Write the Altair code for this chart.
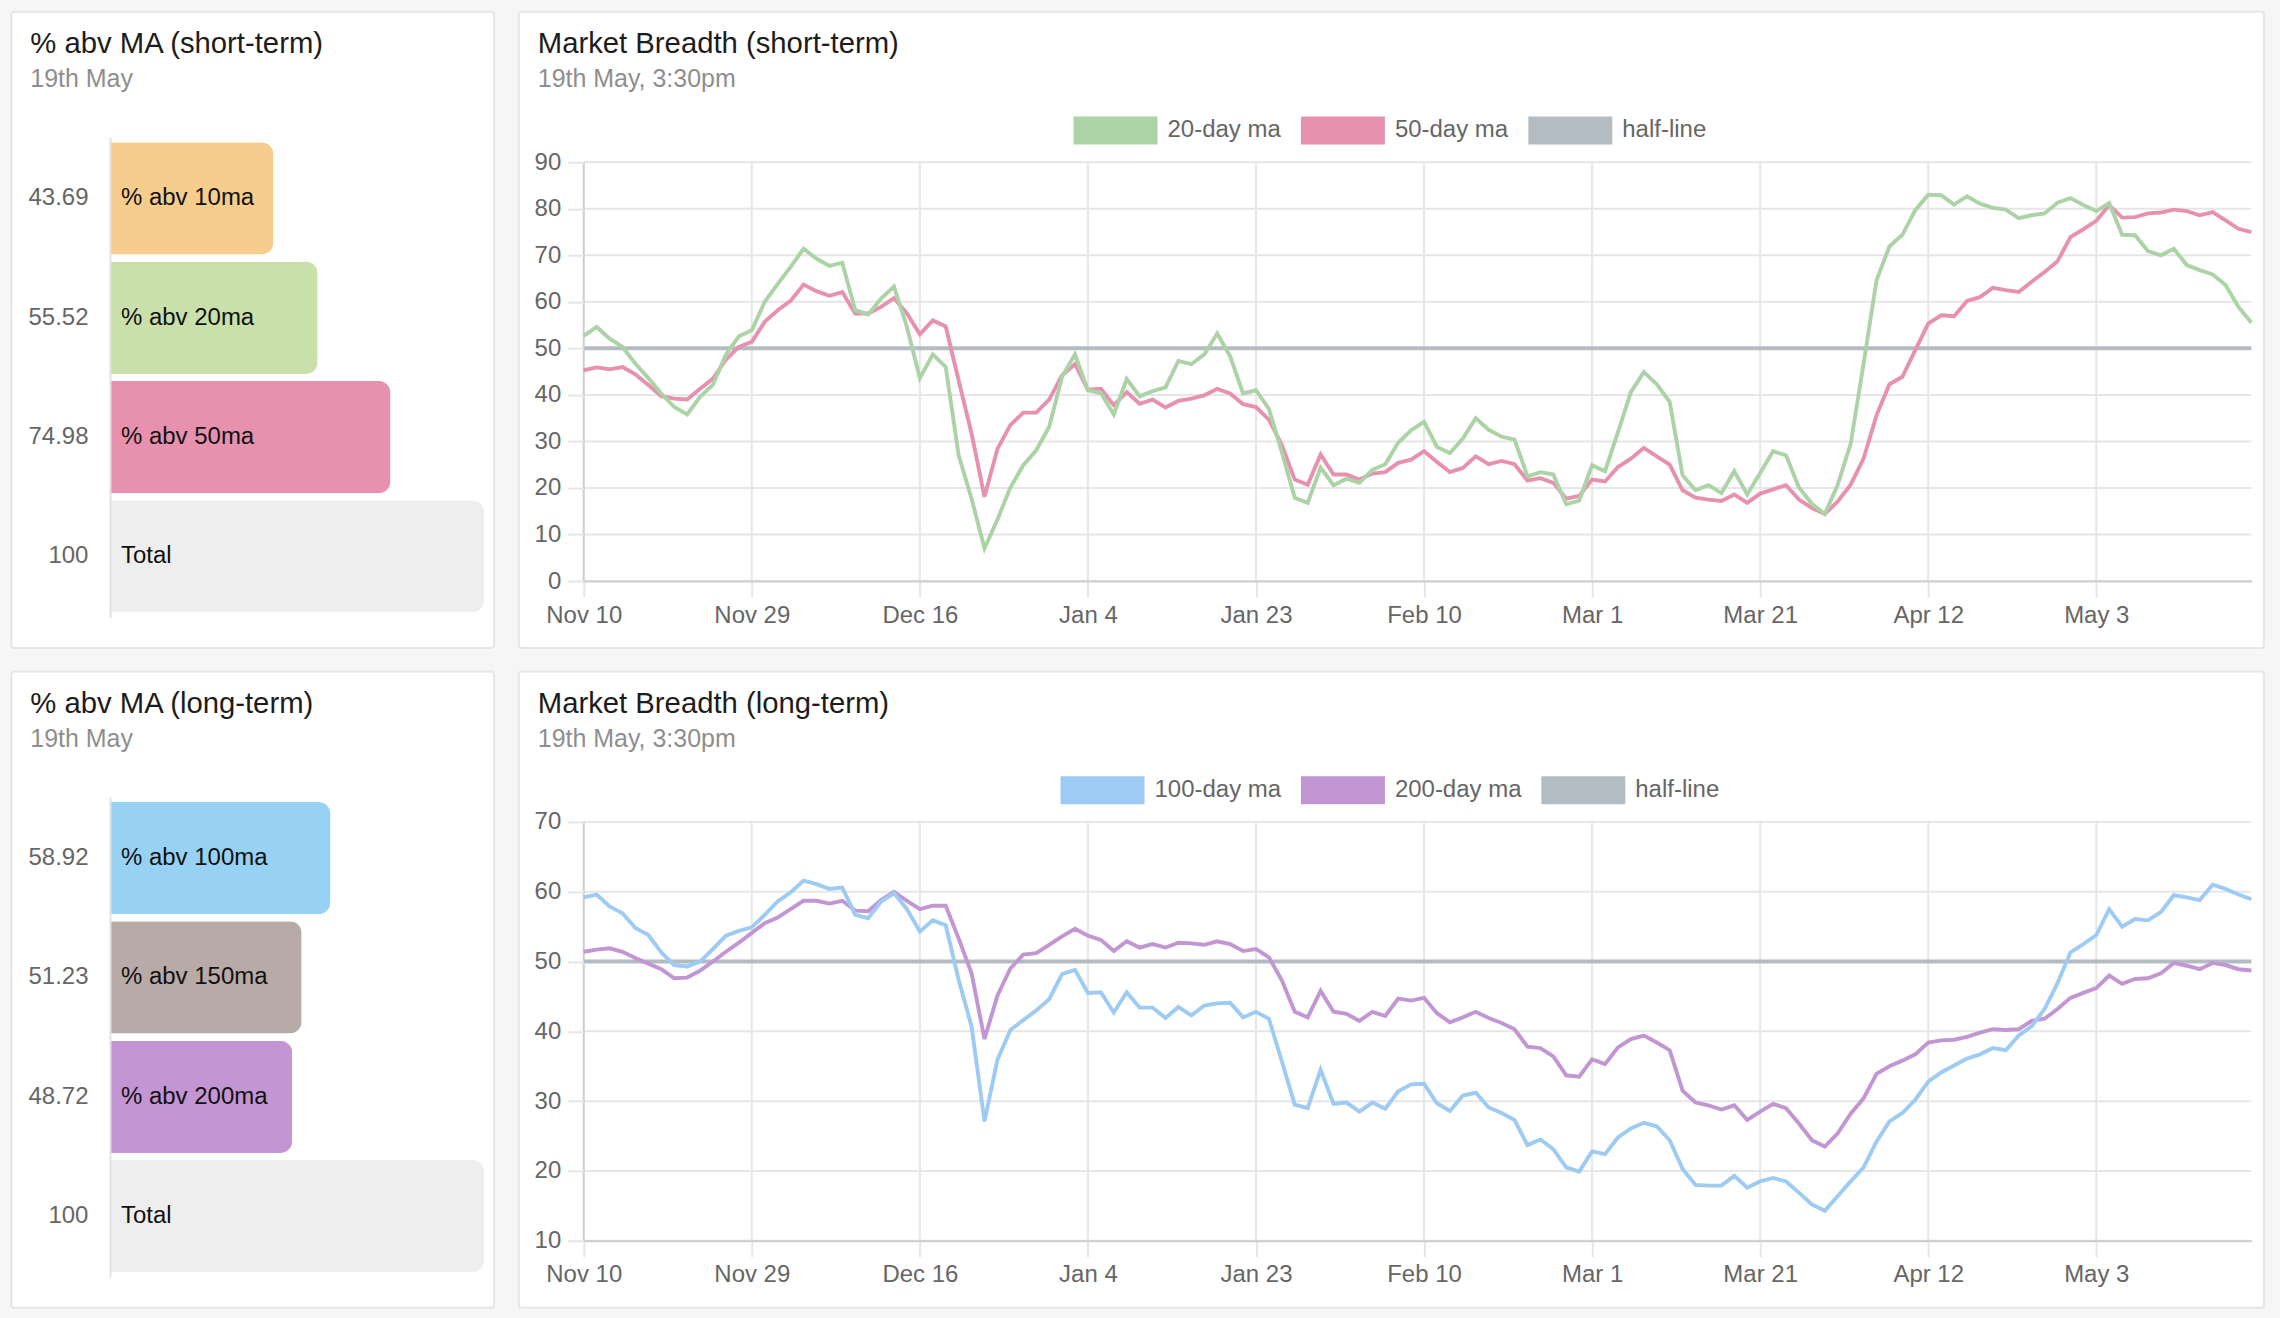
import altair as alt
import pandas as pd

# ---------------------------------------------------------------- data
# Date axis: one label every 13 sessions
TICK_LABELS = ["Nov 10", "Nov 29", "Dec 16", "Jan 4", "Jan 23",
               "Feb 10", "Mar 1", "Mar 21", "Apr 12", "May 3"]
LABEL_STEP = 13

# % of stocks above their moving average, one value per session
MA20 = [52.7, 54.6, 52.1, 50.3, 46.7, 43.6, 40.3, 37.4, 35.8, 39.6,
        42.2, 48.7, 52.6, 53.9, 60.0, 63.8, 67.5, 71.4, 69.3, 67.7,
        68.4, 58.2, 57.3, 60.7, 63.3, 54.6, 43.6, 48.7, 46.0, 27.0,
        17.7, 7.0, 13.2, 20.1, 24.9, 28.1, 33.1, 43.9, 48.7, 41.0,
        40.4, 35.8, 43.4, 39.7, 40.8, 41.6, 47.3, 46.6, 48.7, 53.2,
        48.3, 40.3, 41.0, 37.0, 27.7, 17.9, 16.8, 24.4, 20.6, 22.0,
        21.1, 23.9, 25.1, 29.7, 32.4, 34.2, 28.8, 27.5, 30.6, 35.0,
        32.5, 31.0, 30.4, 22.5, 23.4, 22.9, 16.5, 17.3, 24.9, 23.6,
        32.0, 40.6, 44.9, 42.3, 38.5, 22.7, 19.5, 20.6, 18.9, 23.6,
        18.6, 23.2, 27.9, 27.0, 20.1, 16.6, 14.4, 20.7, 29.5, 46.7,
        64.6, 71.9, 74.4, 79.7, 83.0, 82.9, 80.9, 82.7, 81.1, 80.2,
        79.8, 78.0, 78.6, 79.0, 81.3, 82.3, 80.8, 79.5, 81.2, 74.4,
        74.3, 70.9, 70.0, 71.4, 67.9, 66.8, 65.9, 63.6, 58.9, 55.52]

MA50 = [45.3, 45.9, 45.5, 46.0, 44.4, 42.1, 39.7, 39.2, 39.0, 41.3,
        43.5, 47.6, 50.3, 51.4, 55.7, 58.2, 60.2, 63.7, 62.3, 61.3,
        62.1, 57.5, 57.5, 58.9, 60.8, 57.5, 53.0, 56.0, 54.7, 43.1,
        31.7, 18.1, 28.4, 33.5, 36.2, 36.2, 39.0, 44.2, 46.6, 41.1,
        41.3, 37.8, 40.6, 38.1, 39.0, 37.3, 38.7, 39.2, 39.9, 41.3,
        40.3, 38.0, 37.4, 34.7, 29.2, 21.8, 20.7, 27.2, 22.9, 22.9,
        21.8, 23.1, 23.4, 25.4, 26.1, 27.9, 25.6, 23.4, 24.3, 26.8,
        25.1, 25.8, 25.1, 21.6, 22.1, 21.1, 17.7, 18.3, 21.8, 21.4,
        24.5, 26.3, 28.6, 26.8, 25.0, 19.5, 17.9, 17.5, 17.2, 18.6,
        16.8, 18.8, 19.7, 20.6, 17.5, 15.7, 14.4, 17.1, 20.7, 26.3,
        35.6, 42.3, 43.9, 49.6, 55.3, 57.1, 56.9, 60.2, 61.0, 63.0,
        62.5, 62.1, 64.3, 66.4, 68.7, 73.9, 75.6, 77.4, 80.8, 78.1,
        78.2, 79.0, 79.2, 79.8, 79.5, 78.6, 79.3, 77.5, 75.7, 74.98]

MA100 = [59.2, 59.6, 57.9, 56.9, 54.8, 53.8, 51.3, 49.5, 49.3, 50.0,
         51.8, 53.7, 54.4, 54.9, 56.7, 58.6, 59.9, 61.6, 61.1, 60.4,
         60.6, 56.7, 56.2, 58.6, 59.8, 57.5, 54.3, 55.9, 55.2, 47.4,
         40.7, 27.1, 35.9, 40.2, 41.6, 43.0, 44.6, 48.2, 48.8, 45.5,
         45.6, 42.7, 45.6, 43.4, 43.4, 41.9, 43.5, 42.3, 43.7, 44.0,
         44.1, 42.0, 42.8, 41.8, 35.7, 29.5, 29.0, 34.5, 29.6, 29.8,
         28.5, 29.8, 28.9, 31.4, 32.4, 32.5, 29.7, 28.6, 30.8, 31.2,
         29.1, 28.3, 27.3, 23.7, 24.5, 23.1, 20.5, 19.9, 22.8, 22.4,
         24.8, 26.1, 26.9, 26.4, 24.4, 20.3, 18.0, 17.9, 17.9, 19.3,
         17.6, 18.5, 19.0, 18.5, 16.9, 15.2, 14.3, 16.4, 18.5, 20.5,
         24.2, 27.1, 28.3, 30.2, 32.8, 34.1, 35.1, 36.1, 36.7, 37.6,
         37.3, 39.4, 40.7, 43.2, 46.9, 51.3, 52.5, 53.8, 57.5, 55.0,
         56.1, 55.9, 57.1, 59.5, 59.2, 58.8, 61.0, 60.4, 59.6, 58.92]

MA200 = [51.4, 51.7, 51.9, 51.4, 50.5, 49.7, 48.9, 47.6, 47.7, 48.7,
         50.0, 51.4, 52.7, 54.1, 55.5, 56.3, 57.5, 58.7, 58.7, 58.3,
         58.7, 57.3, 57.2, 58.8, 60.0, 58.7, 57.5, 58.0, 58.0, 53.3,
         48.3, 38.9, 45.1, 49.0, 51.0, 51.2, 52.4, 53.6, 54.7, 53.7,
         53.1, 51.5, 52.9, 52.0, 52.5, 52.0, 52.7, 52.6, 52.4, 52.9,
         52.5, 51.5, 51.8, 50.6, 47.3, 42.8, 42.0, 45.8, 42.8, 42.5,
         41.5, 42.8, 42.2, 44.7, 44.4, 44.8, 42.6, 41.3, 42.0, 42.8,
         41.9, 41.2, 40.3, 37.8, 37.6, 36.4, 33.7, 33.5, 36.0, 35.3,
         37.7, 38.9, 39.4, 38.4, 37.3, 31.5, 29.8, 29.4, 28.8, 29.4,
         27.3, 28.5, 29.6, 29.0, 26.8, 24.4, 23.5, 25.4, 28.2, 30.4,
         33.9, 35.0, 35.8, 36.7, 38.4, 38.7, 38.8, 39.2, 39.8, 40.3,
         40.2, 40.3, 41.5, 41.8, 43.2, 44.8, 45.5, 46.2, 48.0, 46.8,
         47.5, 47.6, 48.3, 49.8, 49.4, 48.9, 49.8, 49.5, 48.9, 48.72]

HALF_LINE = 50

SHORT_NAMES = ["% abv 10ma", "% abv 20ma", "% abv 50ma", "Total"]
SHORT_VALUES = [43.69, 55.52, 74.98, 100]
LONG_NAMES = ["% abv 100ma", "% abv 150ma", "% abv 200ma", "Total"]
LONG_VALUES = [58.92, 51.23, 48.72, 100]

SHORT_SERIES = ["20-day ma", "50-day ma", "half-line"]
LONG_SERIES = ["100-day ma", "200-day ma", "half-line"]

SHORT_TICKS = [0, 10, 20, 30, 40, 50, 60, 70, 80, 90]
LONG_TICKS = [10, 20, 30, 40, 50, 60, 70]

# ---------------------------------------------------------------- style
FONT = "Liberation Sans"
INK = "#1c1c1c"
SUBTLE = "#8e8e8e"
TICK_TEXT = "#666666"
GRID = "#e6e6e6"
EDGE = "#cdcdcd"
PAGE = "#f6f6f6"
CARD_EDGE = "#e6e6e6"

SHORT_BAR_COLORS = ["#f7cd8d", "#c9e0ab", "#e891ae", "#eeeeee"]
LONG_BAR_COLORS = ["#97d2f5", "#b8aaa6", "#c495d3", "#eeeeee"]
SHORT_LINE_COLORS = ["#acd3a6", "#e891ae", "#b3bcc3"]
LONG_LINE_COLORS = ["#9dcbf3", "#c295d3", "#b3bcc3"]

BAR_W, BAR_H = 374.3, 480.6
LINE_W, LINE_H = 1668.4, 444
LINE_TOP_GAP = 25

# legend swatch: 84 x 28 box drawn as a thick stroke
SWATCH_W, SWATCH_H = 84, 28

TICK_IDX = [i * LABEL_STEP for i in range(len(TICK_LABELS))]
LABEL_EXPR = "[" + ",".join(f"'{s}'" for s in TICK_LABELS) + "]" \
    + f"[round(datum.value / {LABEL_STEP})]"


def card(x0, x1, y0, y1):
    """White panel behind one chart."""
    return alt.Chart(pd.DataFrame({"card": [1]})).mark_rect(
        fill="white", stroke=CARD_EDGE, strokeWidth=2, cornerRadius=3
    ).encode(x=alt.value(x0), x2=alt.value(x1), y=alt.value(y0), y2=alt.value(y1))


def heading(title, subtitle, x):
    df = pd.DataFrame({"title": [title], "subtitle": [subtitle]})
    base = alt.Chart(df)
    head = base.mark_text(align="left", baseline="alphabetic", font=FONT,
                          fontSize=29.3, color=INK).encode(
        x=alt.value(x), y=alt.value(-83.8), text="title:N")
    sub = base.mark_text(align="left", baseline="alphabetic", font=FONT,
                         fontSize=25, color=SUBTLE).encode(
        x=alt.value(x), y=alt.value(-50), text="subtitle:N")
    return alt.layer(head, sub)


def bar_panel(names, values, colors, title, subtitle):
    df = pd.DataFrame({"name": names, "value": values, "color": colors})
    df["label"] = [f"{v:g}" for v in values]
    y = alt.Y("label:N", sort=list(df["label"]), title=None,
              scale=alt.Scale(paddingInner=0.059, paddingOuter=0.042),
              axis=alt.Axis(ticks=False, tickSize=0, labelPadding=22,
                            labelFontSize=24, labelColor=TICK_TEXT, labelFont=FONT,
                            domainColor="#e2e2e2", domainWidth=2, zindex=1))
    x = alt.X("value:Q", scale=alt.Scale(domain=[0, 100], nice=False), axis=None)
    bars = alt.Chart(df).mark_bar(cornerRadiusEnd=12).encode(
        x=x, y=y, color=alt.Color("color:N", scale=None))
    names_txt = alt.Chart(df).mark_text(
        align="left", baseline="middle", dx=11, font=FONT, fontSize=24, color="#111111"
    ).encode(x=alt.datum(0), y=y, text="name:N")
    return alt.layer(
        card(-98.7, 384.3, -125.6, 511), bars, names_txt,
        heading(title, subtitle, -79.7),
    ).properties(width=BAR_W, height=BAR_H)


def line_panel(series_values, series_names, colors, ticks, title, subtitle, legend_x):
    n = len(series_values[0])
    lo, hi = ticks[0], ticks[-1]
    top = hi + LINE_TOP_GAP * (hi - lo) / (LINE_H - LINE_TOP_GAP)
    yscale = alt.Scale(domain=[lo, top], nice=False, zero=False)
    xscale = alt.Scale(domain=[0, n - 1], nice=False, zero=False)
    x_axis = alt.Axis(values=TICK_IDX, labelExpr=LABEL_EXPR, grid=False,
                      tickSize=16, tickColor=GRID, tickWidth=2,
                      domainColor=EDGE, domainWidth=2,
                      labelFontSize=24, labelColor=TICK_TEXT, labelFont=FONT,
                      labelPadding=6, labelFlush=False, labelOverlap=False, zindex=1)
    y_axis = alt.Axis(values=ticks, grid=False, domain=False,
                      tickSize=16, tickColor=GRID, tickWidth=2,
                      labelFontSize=24, labelColor=TICK_TEXT, labelFont=FONT,
                      labelPadding=7, labelFlush=False, labelOverlap=False, zindex=1)

    def xe(field):
        return alt.X(field, scale=xscale, axis=x_axis, title=None)

    def ye(field):
        return alt.Y(field, scale=yscale, axis=y_axis, title=None)

    # the swatch occupies a (w + h) square cell; shift it so the box starts at legend_x
    cell = SWATCH_W + SWATCH_H
    color = alt.Color(
        "series:N",
        scale=alt.Scale(domain=series_names, range=colors),
        legend=alt.Legend(orient="none",
                          legendX=legend_x - (cell - SWATCH_W) / 2,
                          legendY=-6.8 - cell / 2,
                          direction="horizontal", title=None,
                          symbolType="stroke", symbolSize=SWATCH_W * SWATCH_W,
                          symbolStrokeWidth=SWATCH_H, labelFontSize=24,
                          labelColor=TICK_TEXT, labelFont=FONT,
                          labelOffset={"expr": "-4"},
                          columnPadding={"expr": "-36.5"}, padding=0, zindex=1),
    )

    hgrid = alt.Chart(pd.DataFrame({"level": ticks})).mark_rule(
        color=GRID, strokeWidth=2).encode(y=ye("level:Q"))
    vgrid = alt.Chart(pd.DataFrame({"session": TICK_IDX[1:]})).mark_rule(
        color=GRID, strokeWidth=2).encode(x=xe("session:Q"),
                                          y=alt.datum(hi), y2=alt.datum(lo))
    edge = alt.Chart(pd.DataFrame({"session": [0]})).mark_rule(
        color=EDGE, strokeWidth=2).encode(x=xe("session:Q"),
                                          y=alt.datum(hi), y2=alt.datum(lo))
    half = alt.Chart(pd.DataFrame({
        "start": [0], "end": [n - 1], "level": [HALF_LINE], "series": [series_names[2]]
    })).mark_rule(strokeWidth=4).encode(
        x=xe("start:Q"), x2="end:Q", y=ye("level:Q"), color=color)

    lines = []
    for vals, name in zip(series_values, series_names[:2]):
        df = pd.DataFrame({"session": range(n), "pct": vals, "series": name})
        lines.append(alt.Chart(df).mark_line(strokeWidth=3.9).encode(
            x=xe("session:Q"), y=ye("pct:Q"), color=color))

    return alt.layer(
        card(-65, 1681, -125.6, 511), hgrid, vgrid, edge, half,
        lines[1], lines[0],
        heading(title, subtitle, -46),
    ).properties(width=LINE_W, height=LINE_H)


short_bars = bar_panel(SHORT_NAMES, SHORT_VALUES, SHORT_BAR_COLORS,
                       "% abv MA (short-term)", "19th May")
short_lines = line_panel([MA20, MA50], SHORT_SERIES, SHORT_LINE_COLORS, SHORT_TICKS,
                         "Market Breadth (short-term)", "19th May, 3:30pm", 490)
long_bars = bar_panel(LONG_NAMES, LONG_VALUES, LONG_BAR_COLORS,
                      "% abv MA (long-term)", "19th May")
long_lines = line_panel([MA100, MA200], LONG_SERIES, LONG_LINE_COLORS, LONG_TICKS,
                        "Market Breadth (long-term)", "19th May, 3:30pm", 477)

chart = alt.concat(
    short_bars, short_lines, long_bars, long_lines,
    columns=2, spacing={"row": 179, "column": 99}, bounds="flush",
).resolve_scale(
    x="independent", y="independent", color="independent"
).resolve_legend(color="independent").properties(
    background=PAGE,
    padding={"left": 10, "top": 10, "right": 15, "bottom": 9},
).configure_view(strokeWidth=0)

chart.save("out.html", embed_options={"renderer": "svg", "actions": False})
